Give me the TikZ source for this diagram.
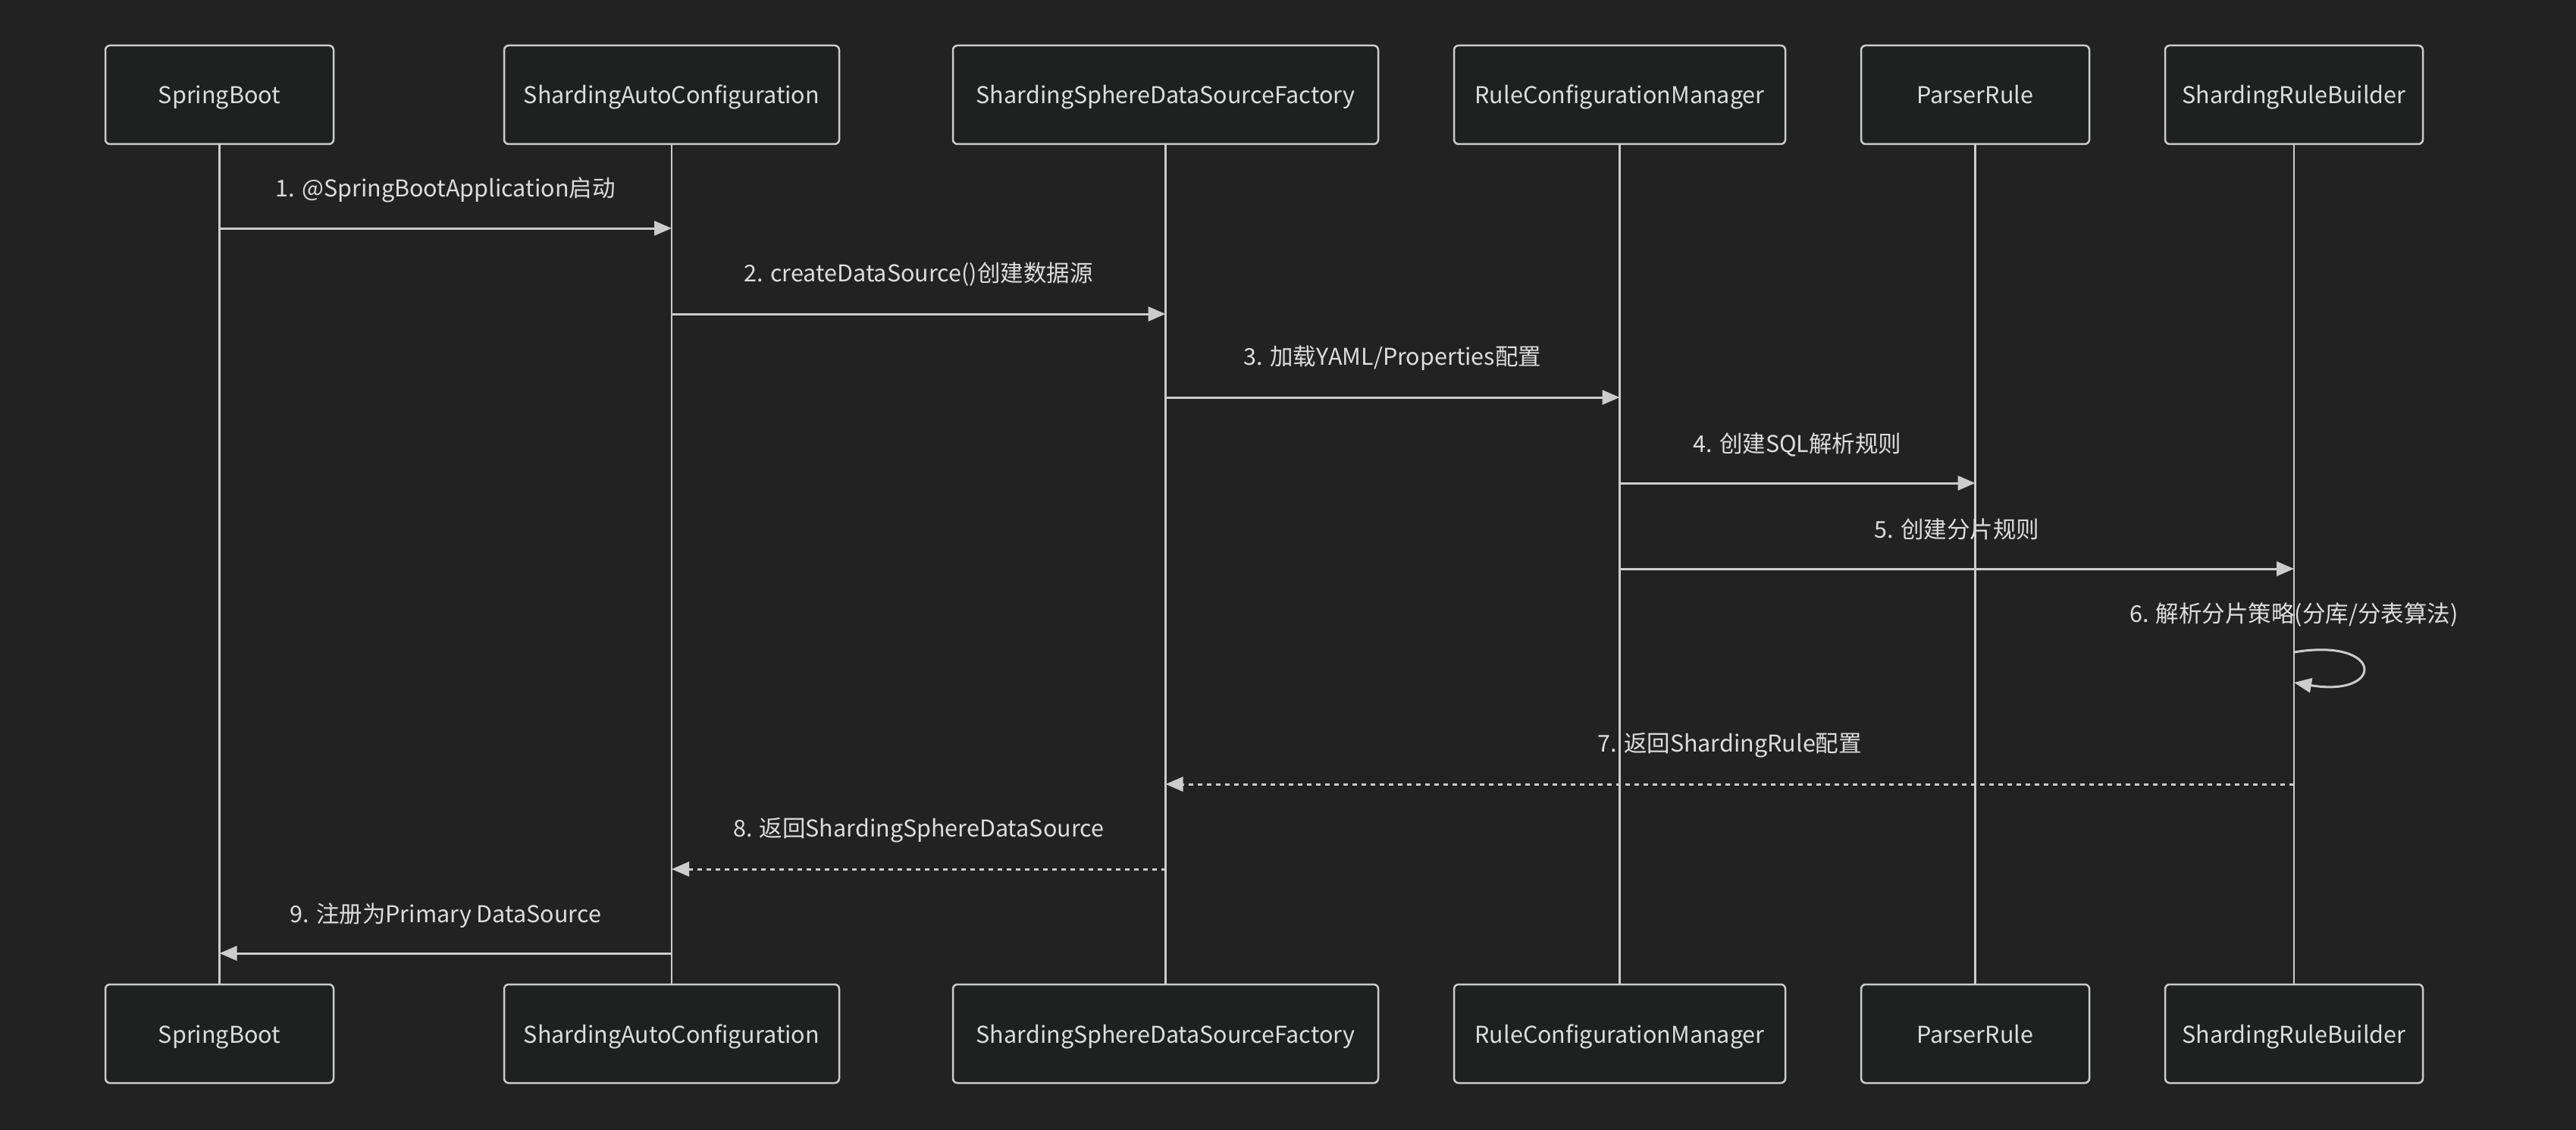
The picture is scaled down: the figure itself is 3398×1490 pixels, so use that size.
\documentclass[tikz,border=0pt]{standalone}
\usepackage{fontspec}
\setmainfont{Noto Sans CJK SC}
\usetikzlibrary{arrows.meta}
\definecolor{bg}{HTML}{222222}
\definecolor{boxfill}{HTML}{1F2020}
\definecolor{boxline}{HTML}{CCCCCC}
\definecolor{lineclr}{HTML}{CCCCCC}
\definecolor{txt}{HTML}{DDDDDD}
\newcommand{\lblfont}{\fontsize{30.5}{36}\selectfont}
\tikzset{
  actor/.style={draw=boxline, fill=boxfill, rounded corners=6pt, line width=2.5pt,
    minimum height=130pt, inner sep=0pt, text=txt, font=\lblfont,
    text height=27pt, text depth=3pt},
  lifeline/.style={draw=lineclr, line width=2.5pt},
  msg/.style={draw=lineclr, line width=3pt, -{Triangle[length=23pt,width=19pt]}},
  reply/.style={msg, dash pattern=on 6pt off 6pt},
  mlabel/.style={text=txt, font=\lblfont, inner sep=0pt, anchor=center,
    text height=27pt, text depth=3pt}
}
\begin{document}
\begin{tikzpicture}[x=1pt,y=-1pt]
\fill[bg] (0,0) rectangle (3398,1490);
\useasboundingbox (0,0) rectangle (3398,1490);
% lifelines positions
\def\xa{289.5}\def\xb{886}\def\xc{1537.5}\def\xd{2136.5}\def\xe{2605.5}\def\xf{3026}
% lifelines
\foreach \x in {\xa,\xb,\xc,\xd,\xe,\xf}{
  \draw[lifeline] (\x,190) -- (\x,1298);
}
% top actors
\node[actor, minimum width=301pt] (a1) at (\xa,125) {SpringBoot};
\node[actor, minimum width=442pt] (a2) at (\xb,125) {ShardingAutoConfiguration};
\node[actor, minimum width=561pt] (a3) at (\xc,125) {ShardingSphereDataSourceFactory};
\node[actor, minimum width=437pt] (a4) at (\xd,125) {RuleConfigurationManager};
\node[actor, minimum width=301pt] (a5) at (\xe,125) {ParserRule};
\node[actor, minimum width=340pt] (a6) at (\xf,125) {ShardingRuleBuilder};
% bottom actors
\node[actor, minimum width=301pt] (b1) at (\xa,1363) {SpringBoot};
\node[actor, minimum width=442pt] (b2) at (\xb,1363) {ShardingAutoConfiguration};
\node[actor, minimum width=561pt] (b3) at (\xc,1363) {ShardingSphereDataSourceFactory};
\node[actor, minimum width=437pt] (b4) at (\xd,1363) {RuleConfigurationManager};
\node[actor, minimum width=301pt] (b5) at (\xe,1363) {ParserRule};
\node[actor, minimum width=340pt] (b6) at (\xf,1363) {ShardingRuleBuilder};
% message anchor points
\coordinate (m1s) at (\xa,301);  \coordinate (m1e) at (\xb,301);
\coordinate (m2s) at (\xb,414);  \coordinate (m2e) at (\xc,414);
\coordinate (m3s) at (\xc,524);  \coordinate (m3e) at (\xd,524);
\coordinate (m4s) at (\xd,637);  \coordinate (m4e) at (\xe,637);
\coordinate (m5s) at (\xd,750);  \coordinate (m5e) at (\xf,750);
\coordinate (m6s) at (\xf,860);  \coordinate (m6e) at (\xf,900);
\coordinate (m7s) at (\xf,1034); \coordinate (m7e) at (\xc,1034);
\coordinate (m8s) at (\xc,1146); \coordinate (m8e) at (\xb,1146);
\coordinate (m9s) at (\xb,1257); \coordinate (m9e) at (\xa,1257);
% messages
\draw[msg] (m1s) -- (m1e);
\draw[msg] (m2s) -- (m2e);
\draw[msg] (m3s) -- (m3e);
\draw[msg] (m4s) -- (m4e);
\draw[msg] (m5s) -- (m5e);
\draw[msg] (m6s) .. controls +(120,-20) and +(120,20) .. (m6e);
\draw[reply] (m7s) -- (m7e);
\draw[reply] (m8s) -- (m8e);
\draw[msg] (m9s) -- (m9e);
% labels
\node[mlabel] (l1) at ({(\xa+\xb)/2},248) {1. @SpringBootApplication启动};
\node[mlabel] (l2) at ({(\xb+\xc)/2},359) {2. createDataSource()创建数据源};
\node[mlabel] (l3) at ({(\xc+\xd)/2},469) {3. 加载YAML/Properties配置};
\node[mlabel] (l4) at ({(\xd+\xe)/2},584) {4. 创建SQL解析规则};
\node[mlabel] (l5) at ({(\xd+\xf)/2},697) {5. 创建分片规则};
\node[mlabel] (l6) at (\xf,808) {6. 解析分片策略(分库/分表算法)};
\node[mlabel] (l7) at ({(\xc+\xf)/2},979) {7. 返回ShardingRule配置};
\node[mlabel] (l8) at ({(\xb+\xc)/2},1091) {8. 返回ShardingSphereDataSource};
\node[mlabel] (l9) at ({(\xa+\xb)/2},1204) {9. 注册为Primary DataSource};
\end{tikzpicture}
\end{document}
